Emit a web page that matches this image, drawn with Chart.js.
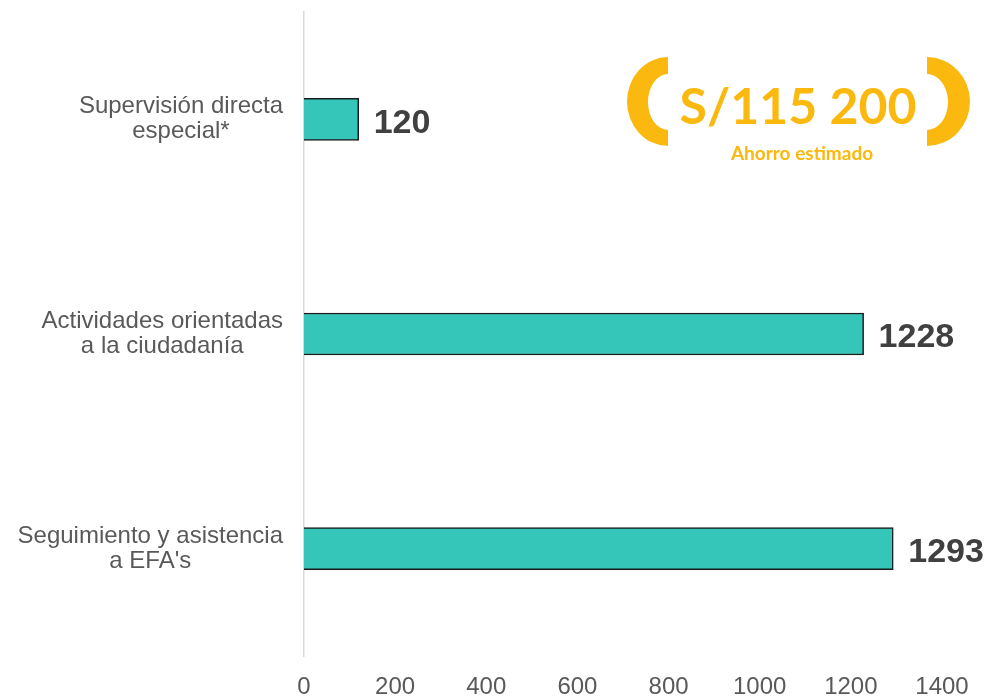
<!DOCTYPE html>
<html>
<head>
<meta charset="utf-8">
<script src="https://cdn.jsdelivr.net/npm/chart.js@4.4.0/dist/chart.umd.min.js"></script>
<style>
  body { margin: 0; background: #fff; }
  #wrap { width: 986px; height: 696px; }
</style>
</head>
<body>
<div id="wrap"><canvas id="barChart" width="986" height="696"></canvas></div>
<script>
// Chart data
const categories = [
  ["Supervisión directa", "especial*"],
  ["Actividades orientadas", "a la ciudadanía"],
  ["Seguimiento y asistencia", "a EFA's"]
];
const values = [120, 1228, 1293];
const xTicks = [0, 200, 400, 600, 800, 1000, 1200, 1400];
const badgeAmount = "S/115 200";
const badgeCaption = "Ahorro estimado";

const ORANGE = "#FBB80E";
const FONT = "'Liberation Sans', Arial, sans-serif";

// Category labels: right block, lines centred inside the block
const yLabelPlugin = {
  id: "yLabels",
  afterDraw(chart) {
    const ctx = chart.ctx;
    const yScale = chart.scales.y;
    ctx.save();
    ctx.font = "24px " + FONT;
    ctx.fillStyle = "#595959";
    ctx.textAlign = "center";
    ctx.textBaseline = "middle";
    categories.forEach((lines, i) => {
      const y = yScale.getPixelForValue(i);
      const maxW = Math.max(...lines.map(l => ctx.measureText(l).width));
      const cx = chart.chartArea.left - 21 - maxW / 2;
      lines.forEach((l, j) => {
        ctx.fillText(l, cx, y - (lines.length - 1) * 12.5 + j * 25);
      });
    });
    ctx.restore();
  }
};

// Value labels at the end of each bar
const valueLabelPlugin = {
  id: "valueLabels",
  afterDatasetsDraw(chart) {
    const ctx = chart.ctx;
    const meta = chart.getDatasetMeta(0);
    ctx.save();
    ctx.font = "bold 34px " + FONT;
    ctx.fillStyle = "#404040";
    ctx.textAlign = "left";
    ctx.textBaseline = "middle";
    meta.data.forEach((bar, i) => {
      ctx.fillText(values[i], bar.x + 15, bar.y + 4);
    });
    ctx.restore();
  }
};

// Savings badge in the top right corner
const badgePlugin = {
  id: "badge",
  afterDraw(chart) {
    const ctx = chart.ctx;
    ctx.save();
    ctx.fillStyle = ORANGE;
    // left bracket
    ctx.beginPath();
    ctx.ellipse(668, 101.5, 41, 44.5, 0, Math.PI / 2, Math.PI * 1.5);
    ctx.ellipse(668, 102, 20, 28, 0, Math.PI * 1.5, Math.PI / 2, true);
    ctx.closePath();
    ctx.fill();
    // right bracket
    ctx.beginPath();
    ctx.ellipse(927, 101.5, 43, 44.5, 0, -Math.PI / 2, Math.PI / 2);
    ctx.ellipse(927, 102, 21, 28, 0, Math.PI / 2, -Math.PI / 2, true);
    ctx.closePath();
    ctx.fill();
    ctx.textAlign = "center";
    ctx.textBaseline = "alphabetic";
    ctx.font = "bold 50px Lato, 'Noto Sans', sans-serif";
    ctx.fillText(badgeAmount, 798, 124, 240);
    ctx.font = "bold 19px Lato, 'Noto Sans', sans-serif";
    ctx.fillText(badgeCaption, 802, 160);
    ctx.restore();
  }
};

const ctx = document.getElementById("barChart").getContext("2d");
const barChart = new Chart(ctx, {
  type: "bar",
  data: {
    labels: categories,
    datasets: [{
      data: values,
      backgroundColor: "#36C6B9",
      borderColor: "#1a1a1a",
      borderWidth: 1.5,
      barThickness: 42
    }]
  },
  options: {
    indexAxis: "y",
    responsive: false,
    animation: false,
    layout: { padding: { top: 12, right: 44, bottom: 0, left: 0 } },
    plugins: {
      legend: { display: false },
      tooltip: { enabled: false }
    },
    scales: {
      x: {
        min: 0,
        max: 1400,
        afterBuildTicks(axis) {
          axis.ticks = xTicks.map(v => ({ value: v }));
        },
        afterFit(axis) { axis.height = 40; },
        grid: { display: false, drawTicks: false },
        border: { display: false },
        ticks: {
          padding: 17,
          color: "#595959",
          callback: v => String(v),
          font: { family: FONT, size: 24 }
        }
      },
      y: {
        grid: { display: false, drawTicks: false },
        border: { display: true, color: "#d9d9d9", width: 1.5 },
        ticks: { display: false },
        afterFit(axis) { axis.width = 304; }
      }
    }
  },
  plugins: [yLabelPlugin, valueLabelPlugin, badgePlugin]
});
</script>
</body>
</html>
